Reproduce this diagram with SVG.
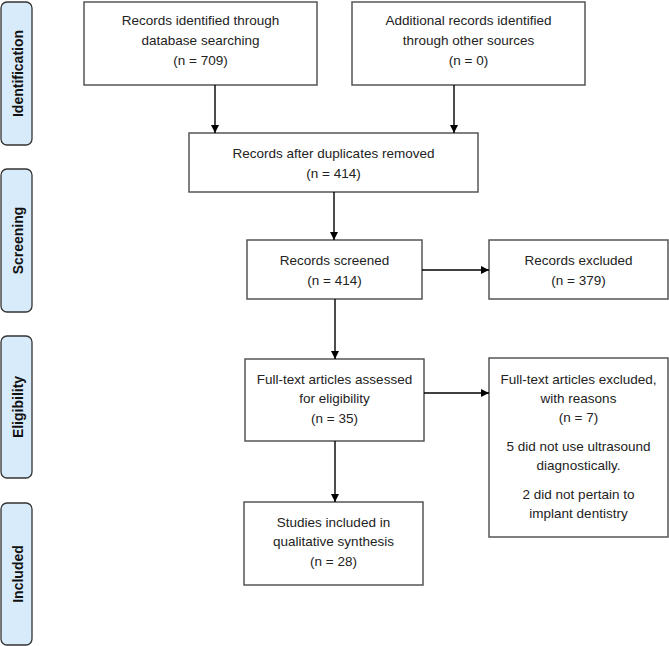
<svg xmlns="http://www.w3.org/2000/svg" width="669" height="646" viewBox="0 0 669 646">
<defs>
<marker id="ah" viewBox="0 0 10 10" refX="10" refY="5" markerWidth="8" markerHeight="8" markerUnits="userSpaceOnUse" orient="auto">
<path d="M0,0 L10,5 L0,10 z" fill="#000"/>
</marker>
<style>
.box{fill:#fff;stroke:#555;stroke-width:1.5}
.side{fill:#d8ebfa;stroke:#333;stroke-width:1.3}
.t{font-family:"Liberation Sans",Arial,sans-serif;font-size:13.5px;fill:#222;text-anchor:middle}
.st{font-family:"Liberation Sans",Arial,sans-serif;font-size:14px;font-weight:bold;fill:#111;text-anchor:middle}
.c{stroke:#000;stroke-width:1.4;fill:none;marker-end:url(#ah)}
</style>
</defs>
<rect width="669" height="646" fill="#fff"/>

<g id="phase-identification">
<rect class="side" x="1" y="2" width="31" height="143" rx="6"/>
<text class="st" transform="translate(22.5,73.5) rotate(-90)">Identification</text>
</g>
<g id="phase-screening">
<rect class="side" x="1" y="169" width="31" height="143" rx="6"/>
<text class="st" transform="translate(22.5,240.5) rotate(-90)">Screening</text>
</g>
<g id="phase-eligibility">
<rect class="side" x="1" y="336" width="31" height="142" rx="6"/>
<text class="st" transform="translate(22.5,407) rotate(-90)">Eligibility</text>
</g>
<g id="phase-included">
<rect class="side" x="1" y="503" width="31" height="142" rx="6"/>
<text class="st" transform="translate(22.5,574) rotate(-90)">Included</text>
</g>

<g id="n-db">
<rect class="box" x="84" y="2" width="233" height="83"/>
<text class="t" x="200.5" y="25">Records identified through</text>
<text class="t" x="200.5" y="45">database searching</text>
<text class="t" x="200.5" y="65">(n = 709)</text>
</g>
<g id="n-other">
<rect class="box" x="352" y="2" width="233" height="83"/>
<text class="t" x="468.5" y="25">Additional records identified</text>
<text class="t" x="468.5" y="45">through other sources</text>
<text class="t" x="468.5" y="65">(n = 0)</text>
</g>
<g id="n-dup">
<rect class="box" x="189" y="133" width="289" height="59"/>
<text class="t" x="333.5" y="158">Records after duplicates removed</text>
<text class="t" x="333.5" y="178">(n = 414)</text>
</g>
<g id="n-screened">
<rect class="box" x="247" y="240" width="175" height="59"/>
<text class="t" x="334.5" y="265">Records screened</text>
<text class="t" x="334.5" y="285">(n = 414)</text>
</g>
<g id="n-excluded">
<rect class="box" x="489" y="240" width="179" height="59"/>
<text class="t" x="578.5" y="265">Records excluded</text>
<text class="t" x="578.5" y="285">(n = 379)</text>
</g>
<g id="n-fulltext">
<rect class="box" x="245" y="359" width="179" height="82"/>
<text class="t" x="334.5" y="384">Full-text articles assessed</text>
<text class="t" x="334.5" y="403">for eligibility</text>
<text class="t" x="334.5" y="423">(n = 35)</text>
</g>
<g id="n-ft-excluded">
<rect class="box" x="489" y="358" width="179" height="179"/>
<text class="t" x="578.5" y="384">Full-text articles excluded,</text>
<text class="t" x="578.5" y="403">with reasons</text>
<text class="t" x="578.5" y="422">(n = 7)</text>
<text class="t" x="578.5" y="451">5 did not use ultrasound</text>
<text class="t" x="578.5" y="470">diagnostically.</text>
<text class="t" x="578.5" y="499">2 did not pertain to</text>
<text class="t" x="578.5" y="518">implant dentistry</text>
</g>
<g id="n-included">
<rect class="box" x="244" y="502" width="179" height="83"/>
<text class="t" x="333.5" y="527">Studies included in</text>
<text class="t" x="333.5" y="546">qualitative synthesis</text>
<text class="t" x="333.5" y="566">(n = 28)</text>
</g>

<g id="connectors">
<line class="c" x1="215" y1="85" x2="215" y2="133"/>
<line class="c" x1="454" y1="85" x2="454" y2="133"/>
<line class="c" x1="334" y1="192" x2="334" y2="240"/>
<line class="c" x1="422" y1="270" x2="489" y2="270"/>
<line class="c" x1="335" y1="299" x2="335" y2="359"/>
<line class="c" x1="424" y1="393" x2="489" y2="393"/>
<line class="c" x1="335" y1="441" x2="335" y2="502"/>
</g>
</svg>
